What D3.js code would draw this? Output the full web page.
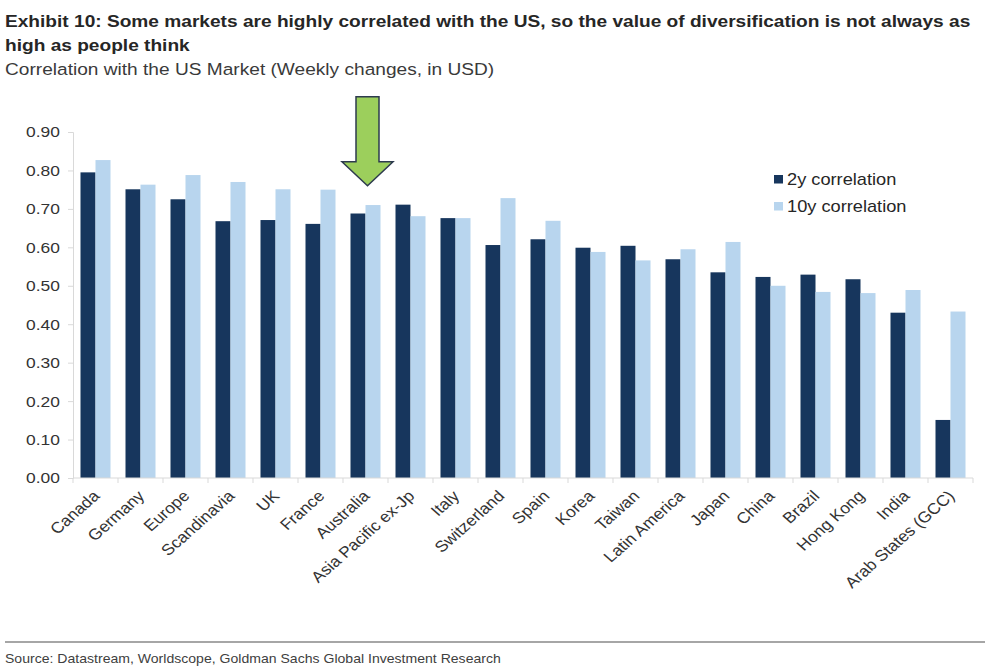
<!DOCTYPE html>
<html>
<head>
<meta charset="utf-8">
<script src="https://cdn.jsdelivr.net/npm/d3@7"></script>
<style>
  body { margin: 0; background: #fff; }
  svg { display: block; font-family: "Liberation Sans", Arial, sans-serif; }
</style>
</head>
<body>
<div id="chart"></div>
<script>
// Chart data
var markets = ["Canada", "Germany", "Europe", "Scandinavia", "UK", "France", "Australia",
  "Asia Pacific ex-Jp", "Italy", "Switzerland", "Spain", "Korea", "Taiwan", "Latin America",
  "Japan", "China", "Brazil", "Hong Kong", "India", "Arab States (GCC)"];
var corr2y = [0.795, 0.751, 0.725, 0.668, 0.671, 0.661, 0.688, 0.711, 0.676, 0.606,
  0.621, 0.599, 0.604, 0.569, 0.535, 0.523, 0.529, 0.517, 0.430, 0.151];
var corr10y = [0.827, 0.763, 0.788, 0.770, 0.751, 0.750, 0.710, 0.681, 0.676, 0.728,
  0.669, 0.588, 0.566, 0.595, 0.614, 0.500, 0.484, 0.481, 0.489, 0.433];
var seriesNames = ["2y correlation", "10y correlation"];
var yTicks = [0, 0.1, 0.2, 0.3, 0.4, 0.5, 0.6, 0.7, 0.8, 0.9];
var highlighted = "Australia";

var colors = ["#17365d", "#b8d5ee"];

// Page size and plot area
var W = 990, H = 670;
var plot = { left: 73, right: 973, top: 132, bottom: 478 };
// the exhibit is a slightly widened picture, so text is stretched sideways a bit
var SX = 1.125;

var svg = d3.select("#chart").append("svg")
  .attr("width", W)
  .attr("height", H);

// place a text at (x, y) with the horizontal stretch (and optional rotation)
function label(parent, x, y, str, rot) {
  return parent.append("text")
    .attr("transform", "translate(" + x + "," + y + ") scale(" + SX + ",1)" + (rot ? " rotate(" + rot + ")" : ""))
    .text(str);
}

// Titles
label(svg, 5, 27, "Exhibit 10: Some markets are highly correlated with the US, so the value of diversification is not always as")
  .attr("font-size", 17).attr("font-weight", "bold").attr("fill", "#262626");
label(svg, 5, 51, "high as people think")
  .attr("font-size", 17).attr("font-weight", "bold").attr("fill", "#262626");
label(svg, 5, 75, "Correlation with the US Market (Weekly changes, in USD)")
  .attr("font-size", 17).attr("fill", "#3a3a3a");

// Scales
var x0 = d3.scaleBand()
  .domain(markets)
  .range([plot.left, plot.right])
  .paddingInner(1 / 3)
  .paddingOuter(1 / 6);

var x1 = d3.scaleBand()
  .domain(seriesNames)
  .range([0, x0.bandwidth()]);

var y = d3.scaleLinear()
  .domain([0, 0.9])
  .range([plot.bottom, plot.top]);

// Y axis
var yAxis = svg.append("g")
  .attr("transform", "translate(" + plot.left + ",0)")
  .call(d3.axisLeft(y).tickValues(yTicks).tickFormat(d3.format(".2f")).tickSize(5).tickPadding(8));
yAxis.select(".domain").attr("stroke", "#d9d9d9");
yAxis.selectAll(".tick line").attr("stroke", "#d9d9d9");
yAxis.selectAll(".tick text")
  .attr("font-size", 15.5).attr("fill", "#333")
  .attr("font-family", "Liberation Sans, Arial, sans-serif")
  .attr("transform", "translate(-13,0) scale(" + SX + ",1)")
  .attr("x", 0);

// Bars
var rows = markets.map(function(m, i) {
  return { market: m, values: [corr2y[i], corr10y[i]] };
});

var groups = svg.selectAll(".group")
  .data(rows)
  .enter().append("g")
  .attr("class", "group")
  .attr("transform", function(d) { return "translate(" + x0(d.market) + ",0)"; });

groups.selectAll("rect")
  .data(function(d) {
    return d.values.map(function(v, j) { return { series: seriesNames[j], value: v, idx: j }; });
  })
  .enter().append("rect")
  .attr("x", function(d) { return x1(d.series); })
  .attr("y", function(d) { return y(d.value); })
  .attr("width", x1.bandwidth())
  .attr("height", function(d) { return y(0) - y(d.value); })
  .attr("fill", function(d) { return colors[d.idx]; });

// X axis line and ticks between categories
svg.append("line")
  .attr("x1", plot.left).attr("x2", plot.right)
  .attr("y1", y(0)).attr("y2", y(0))
  .attr("stroke", "#d9d9d9");

var bounds = markets.map(function(m) { return x0(m) - x0.step() * x0.paddingInner() / 2; });
bounds.push(plot.right);
svg.selectAll(".xtick")
  .data(bounds)
  .enter().append("line")
  .attr("x1", function(d) { return d; }).attr("x2", function(d) { return d; })
  .attr("y1", y(0)).attr("y2", y(0) + 5)
  .attr("stroke", "#d9d9d9");

// Rotated category labels
markets.forEach(function(m) {
  label(svg, x0(m) + x0.bandwidth() / 2 + 5, y(0) + 19, m, -45)
    .attr("text-anchor", "end")
    .attr("font-size", 15.5)
    .attr("fill", "#333");
});

// Legend
var legend = svg.append("g").attr("transform", "translate(774,175)");
seriesNames.forEach(function(name, i) {
  legend.append("rect")
    .attr("x", 0).attr("y", i * 27)
    .attr("width", 9).attr("height", 8.5)
    .attr("fill", colors[i]);
  label(legend, 13, i * 27 + 9.5, name)
    .attr("font-size", 16.2).attr("fill", "#262626");
});

// Green arrow pointing at the highlighted market
var cx = x0(highlighted) + x0.bandwidth() / 2 + 2;
var tipY = y(0.76);
var arrowPts = [
  [cx - 11.5, tipY - 89], [cx + 11.5, tipY - 89], [cx + 11.5, tipY - 24],
  [cx + 25.5, tipY - 24], [cx, tipY], [cx - 25.5, tipY - 24], [cx - 11.5, tipY - 24]
];
svg.append("path")
  .attr("d", d3.line()(arrowPts) + "Z")
  .attr("fill", "#9ccf5c")
  .attr("stroke", "#2d3b4e")
  .attr("stroke-width", 1.5)
  .attr("stroke-linejoin", "miter");

// Footer
svg.append("line")
  .attr("x1", 5).attr("x2", 985)
  .attr("y1", 642).attr("y2", 642)
  .attr("stroke", "#a6a6a6").attr("stroke-width", 2);
label(svg, 5, 663, "Source: Datastream, Worldscope, Goldman Sachs Global Investment Research")
  .attr("font-size", 12.5)
  .attr("fill", "#404040");
</script>
</body>
</html>
